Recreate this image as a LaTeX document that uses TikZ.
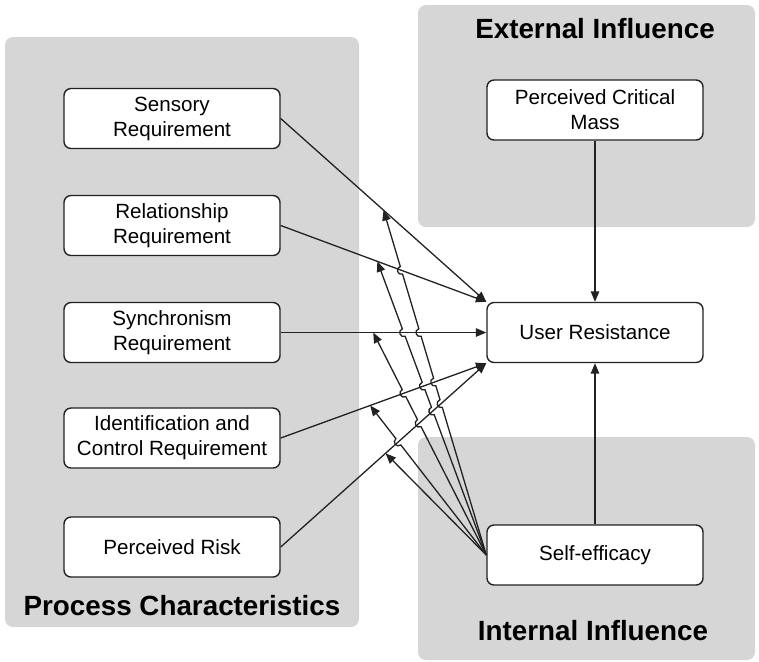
\documentclass[tikz,border=0pt]{standalone}
\usepackage{fontspec}
\setmainfont{Liberation Sans}
\usetikzlibrary{arrows.meta,calc,intersections}
\definecolor{panelgray}{HTML}{D6D6D6}
\definecolor{linegray}{HTML}{222222}
\tikzset{
  panel/.style={fill=panelgray,rounded corners=4pt},
  factor/.style={draw=linegray,fill=white,line width=0.7pt,rounded corners=3.5pt,
    minimum width=108pt,minimum height=30pt,align=center,inner sep=0pt,
    font=\fontsize{10.3}{12.5}\selectfont},
  title/.style={anchor=base,font=\fontsize{13.9}{16}\selectfont\bfseries},
  link/.style={draw=linegray,line width=0.65pt,-{Triangle[length=5.2pt,width=4.2pt]}},
  hop/.style 2 args={insert path={-- ($(#1)!2pt!(se.west)$)
    to[bend left=90,looseness=1.7] ($(#1)!2pt!(#2)$)}}
}
\begin{document}
\begin{tikzpicture}[x=0.5pt,y=-0.5pt]
      \useasboundingbox (0,0) rectangle (759,661);
      \fill[panel] (5,37) rectangle (359,627);
      \fill[panel] (418,5) rectangle (755,227);
      \fill[panel] (418,437) rectangle (755,660);
      \draw
        (182,615) node[title] (tProc){Process Characteristics}
        (595,38) node[title] (tExt){External Influence}
        (593,640) node[title] (tInt){Internal Influence};
      \draw
        (172,118.5) node[factor] (sens){Sensory\\Requirement}
        (172,225.5) node[factor] (rel){Relationship\\Requirement}
        (172,332.5) node[factor] (sync){Synchronism\\Requirement}
        (172,438) node[factor] (ident){Identification and\\Control Requirement}
        (172,547) node[factor] (risk){Perceived Risk}
        (595,110) node[factor] (pcm){Perceived Critical\\Mass}
        (595,332.5) node[factor] (ur){User Resistance}
        (595,555) node[factor] (se){Self-efficacy};
      % direct effects
      \draw[link, name path=l1] (sens.east) -- (ur.north west);
      \draw[link, name path=l2] (rel.east) -- (ur.north west);
      \draw[link, name path=l3] (sync.east) -- (ur.west);
      \draw[link, name path=l4] (ident.east) -- (ur.south west);
      \draw[link, name path=l5] (risk.east) -- (ur.south west);
      \draw[link] (pcm) -- (ur);
      \draw[link] (se) -- (ur);
      % moderating effects of self-efficacy
      \coordinate (m1) at ($(sens.east)!0.50!(ur.north west)$);
      \coordinate (m2) at ($(rel.east)!0.47!(ur.north west)$);
      \coordinate (m3) at ($(sync.east)!0.45!(ur.west)$);
      \coordinate (m4) at ($(ident.east)!0.435!(ur.south west)$);
      \coordinate (m5) at ($(risk.east)!0.51!(ur.south west)$);
      \path[name path=s1] (se.west) -- (m1);
      \path[name path=s2] (se.west) -- (m2);
      \path[name path=s3] (se.west) -- (m3);
      \path[name path=s4] (se.west) -- (m4);
      \path[name intersections={of=s1 and l2,by=c12}];
      \path[name intersections={of=s1 and l3,by=c13}];
      \path[name intersections={of=s1 and l4,by=c14}];
      \path[name intersections={of=s1 and l5,by=c15}];
      \path[name intersections={of=s2 and l3,by=c23}];
      \path[name intersections={of=s2 and l4,by=c24}];
      \path[name intersections={of=s2 and l5,by=c25}];
      \path[name intersections={of=s3 and l4,by=c34}];
      \path[name intersections={of=s3 and l5,by=c35}];
      \path[name intersections={of=s4 and l5,by=c45}];
      \draw[link] (se.west) [hop={c15}{m1}] [hop={c14}{m1}] [hop={c13}{m1}] [hop={c12}{m1}] -- (m1);
      \draw[link] (se.west) [hop={c25}{m2}] [hop={c24}{m2}] [hop={c23}{m2}] -- (m2);
      \draw[link] (se.west) [hop={c35}{m3}] [hop={c34}{m3}] -- (m3);
      \draw[link] (se.west) [hop={c45}{m4}] -- (m4);
      \draw[link] (se.west) -- (m5);
\end{tikzpicture}
\end{document}
